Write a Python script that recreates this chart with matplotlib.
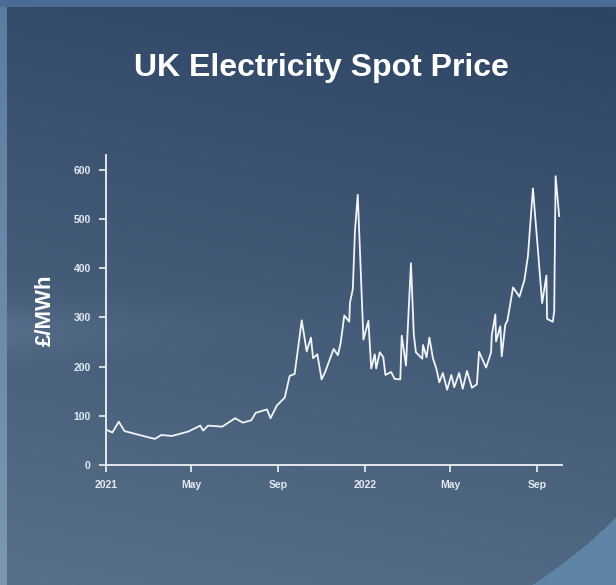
import numpy as np
import pandas as pd
import matplotlib
matplotlib.use("Agg")
import matplotlib.pyplot as plt
import matplotlib.dates as mdates

# weekly-ish UK spot price readings (GBP/MWh)
dates = [
    "2021-01-01", "2021-01-10", "2021-01-19", "2021-01-27", "2021-02-17",
    "2021-03-11", "2021-03-20", "2021-04-04", "2021-04-27", "2021-05-14",
    "2021-05-18", "2021-05-25", "2021-06-14", "2021-07-02", "2021-07-13",
    "2021-07-25", "2021-07-31", "2021-08-16", "2021-08-21", "2021-08-30",
    "2021-09-10", "2021-09-17", "2021-09-24", "2021-10-04", "2021-10-11",
    "2021-10-17", "2021-10-20", "2021-10-26", "2021-11-01", "2021-11-06",
    "2021-11-18", "2021-11-24", "2021-11-28", "2021-12-03", "2021-12-10",
    "2021-12-11", "2021-12-15", "2021-12-18", "2021-12-22", "2021-12-30",
    "2022-01-06", "2022-01-10", "2022-01-15", "2022-01-17", "2022-01-22",
    "2022-01-27", "2022-01-30", "2022-02-07", "2022-02-12", "2022-02-20",
    "2022-02-22", "2022-02-28", "2022-03-07", "2022-03-11", "2022-03-14",
    "2022-03-23", "2022-03-24", "2022-03-29", "2022-04-02", "2022-04-07",
    "2022-04-12", "2022-04-16", "2022-04-21", "2022-04-27", "2022-05-03",
    "2022-05-07", "2022-05-14", "2022-05-19", "2022-05-25", "2022-06-01",
    "2022-06-08", "2022-06-11", "2022-06-21", "2022-06-28", "2022-06-29",
    "2022-07-04", "2022-07-05", "2022-07-11", "2022-07-13", "2022-07-18",
    "2022-07-21", "2022-07-29", "2022-08-07", "2022-08-14", "2022-08-19",
    "2022-08-26", "2022-09-03", "2022-09-08", "2022-09-14", "2022-09-15",
    "2022-09-23", "2022-09-25", "2022-09-27", "2022-10-02",
]
prices = [
    72, 66, 88, 69, 61,
    53, 61, 59, 68, 80,
    70, 80, 78, 95, 86,
    91, 106, 113, 95, 121,
    137, 181, 185, 294, 231,
    259, 217, 225, 174, 189,
    236, 223, 249, 304, 291,
    330, 357, 474, 549, 255,
    293, 196, 225, 196, 229,
    219, 183, 189, 175, 174,
    263, 202, 410, 266, 229,
    216, 244, 219, 259, 217,
    195, 168, 187, 153, 183,
    158, 187, 155, 191, 157,
    164, 230, 198, 229, 264,
    306, 251, 282, 221, 285,
    293, 361, 342, 376, 425,
    562, 420, 329, 385, 297,
    291, 312, 587, 506,
]
y_ticks = [0, 100, 200, 300, 400, 500, 600]

W, H = 616, 585
fig = plt.figure(figsize=(W / 100, H / 100), dpi=100)

# background: slate-blue gradient with lighter frame strips and corner arc
bg = fig.add_axes([0, 0, 1, 1], zorder=-10)
yy, xx = np.mgrid[0:H, 0:W]
top = np.array([0x34, 0x4b, 0x6b]) / 255
bot = np.array([0x58, 0x70, 0x89]) / 255
t = (yy / H)[..., None]
img = top * (1 - t) + bot * t
img = img - 0.03 * (xx / W)[..., None]
band = np.exp(-((yy - 330) / 25.0) ** 2) * np.exp(-xx / 120.0)
img = img + 0.06 * band[..., None]
corner = np.hypot(xx - 250, yy - 150) > 518
img[corner] = np.array([0x5f, 0x85, 0xa6]) / 255
img[:, :7] = (np.array([0x5a, 0x7c, 0xa0]) / 255) * (1 - t[:, :7]) + (np.array([0x7a, 0x98, 0xb2]) / 255) * t[:, :7]
img[:7, :] = np.array([0x4a, 0x6b, 0x95]) / 255
bg.imshow(np.clip(img, 0, 1), aspect="auto", extent=[0, 1, 0, 1])
bg.axis("off")

fg = "#eef2f6"
ax = fig.add_axes([106 / W, 1 - 465 / H, (562 - 106) / W, (465 - 155) / H])
ax.set_facecolor("none")
ax.plot(pd.to_datetime(dates), prices, color="#f2f4f7", lw=1.3)

ax.set_xlim(pd.Timestamp("2021-01-01"), pd.Timestamp("2022-10-06"))
ax.set_ylim(0, 630)
ax.set_yticks(y_ticks)
ax.xaxis.set_major_locator(mdates.MonthLocator(bymonth=[1, 5, 9]))
ax.xaxis.set_major_formatter(mdates.ConciseDateFormatter(ax.xaxis.get_major_locator(), formats=["%Y", "%b", "%d", "%H:%M", "%H:%M", "%S.%f"]))

for s in ["top", "right"]:
    ax.spines[s].set_visible(False)
for s in ["left", "bottom"]:
    ax.spines[s].set_color(fg)
    ax.spines[s].set_linewidth(1.3)
ax.tick_params(colors=fg, length=5, width=1.2, labelsize=7.5, pad=6)
for lab in ax.get_xticklabels() + ax.get_yticklabels():
    lab.set_family("Liberation Sans")
    lab.set_fontweight("bold")
    lab.set_color("#e4eaf1")

ax.set_ylabel("£/MWh", color="white", fontsize=16, fontweight="bold",
              family="Liberation Sans", labelpad=13)

fig.text(321 / W, 1 - 68 / H, "UK Electricity Spot Price", color="white",
         fontsize=23, fontweight="bold", family="Liberation Sans",
         ha="center", va="center")

fig.savefig("out.png", dpi=100)
